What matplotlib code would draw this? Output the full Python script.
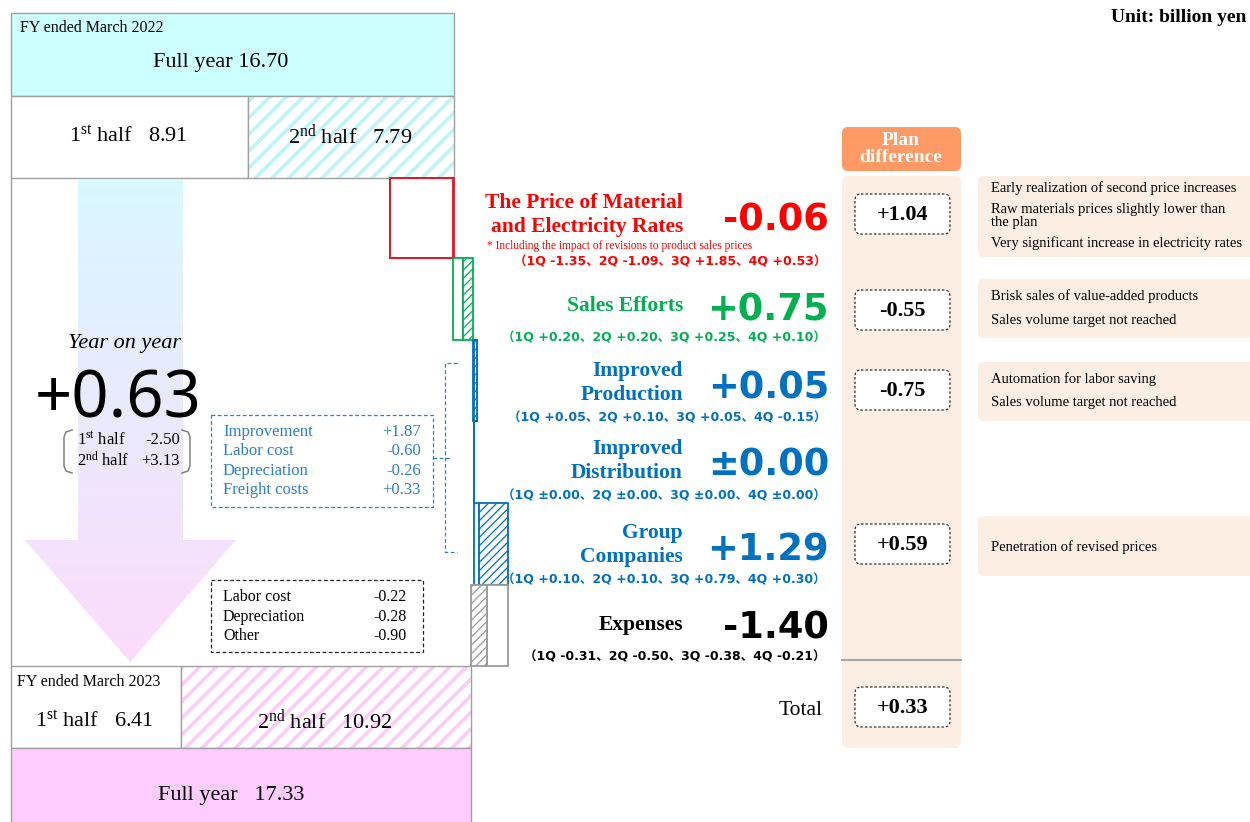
import numpy as np
import matplotlib.pyplot as plt
from matplotlib.patches import FancyBboxPatch, Polygon, Rectangle

plt.rcParams['mathtext.fontset'] = 'custom'
plt.rcParams['mathtext.rm'] = 'Liberation Serif'
plt.rcParams['mathtext.it'] = 'Liberation Serif:italic'
plt.rcParams['mathtext.bf'] = 'Liberation Serif:bold'

SERIF = 'Liberation Serif'
SANS = 'Noto Sans'
BOLD_SANS = 'DejaVu Sans'
QFONT = ['DejaVu Sans', 'Noto Sans CJK JP']

# ---- data (billion yen) ----
fy2022_full = 16.70
fy2022_half = [8.91, 7.79]
fy2023_full = 17.33
fy2023_half = [6.41, 10.92]
yoy_total = 0.63
yoy_half = [-2.50, 3.13]

factors = ['The Price of Material\nand Electricity Rates', 'Sales Efforts',
           'Improved\nProduction', 'Improved\nDistribution',
           'Group\nCompanies', 'Expenses']
factor_total = [-0.06, 0.75, 0.05, 0.00, 1.29, -1.40]
q1 = [-1.35, 0.20, 0.05, 0.00, 0.10, -0.31]
q2 = [-1.09, 0.20, 0.10, 0.00, 0.10, -0.50]
q3 = [1.85, 0.25, 0.05, 0.00, 0.79, -0.38]
q4 = [0.53, 0.10, -0.15, 0.00, 0.30, -0.21]
factor_colors = ['#ff0000', '#00b050', '#0070c0', '#0070c0', '#0070c0', '#000000']
bar_colors = ['#e8141c', '#00b050', '#0070c0', '#0070c0', '#0070c0', '#9a9a9a']

plan_diff = [1.04, -0.55, -0.75, None, 0.59, None]
plan_total = 0.33
plan_notes = [
    ['Early realization of second price increases',
     'Raw materials prices slightly lower than\nthe plan',
     'Very significant increase in electricity rates'],
    ['Brisk sales of value-added products', 'Sales volume target not reached'],
    ['Automation for labor saving', 'Sales volume target not reached'],
    None,
    ['Penetration of revised prices'],
    None,
]

prod_labels = ['Improvement', 'Labor cost', 'Depreciation', 'Freight costs']
prod_values = [1.87, -0.60, -0.26, 0.33]
exp_labels = ['Labor cost', 'Depreciation', 'Other']
exp_values = [-0.22, -0.28, -0.90]

# ---- layout (pixels) ----
W, H = 1250, 822
X0, PX_PER = 11, 26.55          # value axis: 0 at x=11, 26.55 px per billion yen
row_edges = [178, 258, 340, 421, 503, 585, 666]
label_y = [215, 306, 383, 461, 545, 625]
num_base = [230, 320, 398, 475, 560, 638]
quarter_y = [262, 338, 418, 496, 580, 657]
plan_y = [214, 310, 390, None, 544, None]
note_box = [(176, 257), (279, 338), (362, 421), None, (516, 576), None]
note_y = [[188, 215.5, 243], [296, 320], [379, 402], None, [547], None]


def fmt(v):
    if abs(v) < 1e-9:
        return '\u00b10.00'
    return f'{v:+.2f}'


def hatch_lw(patches, lw):
    for p in patches:
        if hasattr(p, 'set_hatch_linewidth'):
            p.set_hatch_linewidth(lw)


fig = plt.figure(figsize=(W / 100, H / 100), dpi=100)
wf = fig.add_axes([0, 0, 1, 1], zorder=0)
wf.set_xlim(-X0 / PX_PER, (W - X0) / PX_PER)
wf.set_ylim(H, 0)
wf.axis('off')

ax = fig.add_axes([0, 0, 1, 1], zorder=1)
ax.patch.set_alpha(0)
ax.axis('off')

grey = '#a0a0a0'

# ---- FY2022 boxes ----
wf.barh(54.5, fy2022_full, left=0, height=83, color='#ccffff', edgecolor=grey, lw=1)
wf.barh(137, fy2022_half[0], left=0, height=82, color='white', edgecolor=grey, lw=1)
b = wf.barh(137, fy2022_half[1], left=fy2022_half[0], height=82, color='white',
            edgecolor='#bff3f6', hatch='//', lw=0)
hatch_lw(b, 2.6)
wf.barh(137, fy2022_half[1], left=fy2022_half[0], height=82, fill=False, edgecolor=grey, lw=1)

# ---- FY2023 boxes ----
wf.barh(707, fy2023_half[0], left=0, height=82, color='white', edgecolor=grey, lw=1)
b = wf.barh(707, fy2023_half[1], left=fy2023_half[0], height=82, color='white',
            edgecolor='#fbcdf6', hatch='//', lw=0)
hatch_lw(b, 2.6)
wf.barh(707, fy2023_half[1], left=fy2023_half[0], height=82, fill=False, edgecolor=grey, lw=1)
wf.barh(789, fy2023_full, left=0, height=82, color='#ffccff', edgecolor=grey, lw=1)

# ---- waterfall (white = 1st half, hatched = 2nd half) ----
level = fy2022_full
for i in range(len(factors)):
    h1 = q1[i] + q2[i]
    h2 = q3[i] + q4[i]
    y0, y1 = row_edges[i], row_edges[i + 1]
    yc, hh = (y0 + y1) / 2, y1 - y0
    wf.barh(yc, h1, left=level, height=hh, color='white', edgecolor=bar_colors[i], lw=1.3)
    level += h1
    if i == 0:
        wf.barh(yc, h2, left=level, height=hh, fill=False, edgecolor=bar_colors[i], lw=1.3)
    else:
        b = wf.barh(yc, h2, left=level, height=hh, color='white', edgecolor=bar_colors[i],
                    hatch='////', lw=1.3)
        hatch_lw(b, 0.9)
    level += h2

# left frame of the middle area
ax.plot([11, 11], [178, 666], color=grey, lw=1)

# ---- gradient arrow ----
arrow = Polygon([(78, 180), (183, 180), (183, 540), (236, 540), (130, 662), (25, 540), (78, 540)],
                closed=True, fc='none', ec='none')
ax.add_patch(arrow)
t = np.linspace(0, 1, 256)[:, None, None]
top_c = np.array([0.85, 0.97, 1.0])
bot_c = np.array([0.99, 0.86, 0.98])
img = top_c + (bot_c - top_c) * t
im = ax.imshow(img, extent=(25, 236, 662, 180), aspect='auto', zorder=0.5)
im.set_clip_path(arrow)
ax.set_xlim(0, W)
ax.set_ylim(H, 0)

# ---- box texts ----
ax.text(20, 28, 'FY ended March 2022', family=SERIF, fontsize=11.5, va='center')
ax.text(221, 63, f'Full year {fy2022_full:.2f}', family=SERIF, fontsize=16, ha='center', va='center')
ax.text(128, 136, f'1$^{{\\rm st}}$ half   {fy2022_half[0]:.2f}', family=SERIF, fontsize=16,
        ha='center', va='center')
ax.text(350, 136, f'2$^{{\\rm nd}}$ half   {fy2022_half[1]:.2f}', family=SERIF, fontsize=16,
        ha='center', va='center')
ax.text(17, 682, 'FY ended March 2023', family=SERIF, fontsize=11.5, va='center')
ax.text(94, 721, f'1$^{{\\rm st}}$ half   {fy2023_half[0]:.2f}', family=SERIF, fontsize=16,
        ha='center', va='center')
ax.text(325, 721, f'2$^{{\\rm nd}}$ half   {fy2023_half[1]:.2f}', family=SERIF, fontsize=16,
        ha='center', va='center')
ax.text(231, 795, f'Full year   {fy2023_full:.2f}', family=SERIF, fontsize=16,
        ha='center', va='center')

# ---- year on year ----
ax.text(124, 343, 'Year on year', family=SERIF, style='italic', fontsize=16, ha='center', va='center')
ax.text(118, 417, fmt(yoy_total), family=SANS, fontsize=47, ha='center', va='baseline')
ax.text(77, 440, '1$^{\\rm st}$ half', family=SERIF, fontsize=12, va='center')
ax.text(180, 440, f'{yoy_half[0]:.2f}', family=SERIF, fontsize=12, ha='right', va='center')
ax.text(77, 461, '2$^{\\rm nd}$ half', family=SERIF, fontsize=12, va='center')
ax.text(180, 461, fmt(yoy_half[1]), family=SERIF, fontsize=12, ha='right', va='center')
ax.plot([72, 66, 64, 64, 66, 72], [430, 432, 437, 466, 471, 473], color='#808080', lw=1.1)
ax.plot([182, 188, 190, 190, 188, 182], [430, 432, 437, 466, 471, 473], color='#808080', lw=1.1)

# ---- production / group breakdown box ----
blue_l = '#2e7fcc'
ax.add_patch(Rectangle((211, 415), 222, 92, fc='white', ec=blue_l, lw=0.9, ls=(0, (3, 2))))
for k, (lab, v) in enumerate(zip(prod_labels, prod_values)):
    yy = 432 + k * 19.3
    ax.text(223, yy, lab, family=SERIF, fontsize=12, color=blue_l, va='center')
    ax.text(421, yy, fmt(v), family=SERIF, fontsize=12, color=blue_l, ha='right', va='center')
ax.plot([433, 452], [458, 458], color=blue_l, lw=0.9, ls=(0, (3, 2)))
ax.plot([457, 445, 445, 457], [363, 363, 552, 552], color=blue_l, lw=0.9, ls=(0, (3, 2)))

# ---- expenses breakdown box ----
ax.add_patch(Rectangle((211, 580), 212, 72, fc='white', ec='#222222', lw=0.9, ls=(0, (3, 2))))
for k, (lab, v) in enumerate(zip(exp_labels, exp_values)):
    yy = 597 + k * 19.5
    ax.text(223, yy, lab, family=SERIF, fontsize=11.5, va='center')
    ax.text(407, yy, fmt(v), family=SERIF, fontsize=11.5, ha='right', va='center')

# ---- factor labels ----
for i, name in enumerate(factors):
    c = factor_colors[i]
    ax.text(683, label_y[i], name, family=SERIF, weight='bold', fontsize=15.5, color=c,
            ha='right', va='center', multialignment='right', linespacing=1.22)
    ax.text(829, num_base[i], fmt(factor_total[i]), family=BOLD_SANS, weight='bold', fontsize=26.5,
            color=c, ha='right', va='baseline')
    qs = [q1[i], q2[i], q3[i], q4[i]]
    qtxt = '\uff08' + '\u3001'.join(f'{k + 1}Q {fmt(v)}' for k, v in enumerate(qs)) + '\uff09'
    ax.text(826, quarter_y[i], qtxt, family=QFONT, weight='bold', fontsize=9, color=c,
            ha='right', va='center')
ax.text(487, 246, '* Including the impact of revisions to product sales prices', family=SERIF,
        fontsize=8.3, color='#ff0000', va='center')

# ---- plan difference column ----
peach = '#fdeee3'
ax.add_patch(FancyBboxPatch((842, 127), 119, 44, boxstyle='round,pad=0,rounding_size=6',
                            fc='#ff9a66', ec='none'))
ax.text(901, 149, 'Plan\ndifference', family=SERIF, weight='bold', fontsize=14, color='white',
        ha='center', va='center', linespacing=0.95)
ax.add_patch(FancyBboxPatch((842, 176), 119, 572, boxstyle='round,pad=0,rounding_size=7',
                            fc=peach, ec='none'))
ax.plot([842, 961], [660, 660], color='#a6a6a6', lw=1.5)


def plan_box(y, v):
    ax.add_patch(FancyBboxPatch((855, y - 20), 95, 40, boxstyle='round,pad=0,rounding_size=6',
                                fc='white', ec='#333333', lw=0.9, ls=(0, (2, 1.6))))
    ax.text(902.5, y + 1, fmt(v), family=SERIF, weight='bold', fontsize=16, ha='center', va='center')


for i, v in enumerate(plan_diff):
    if v is not None:
        plan_box(plan_y[i], v)
plan_box(707, plan_total)
ax.text(823, 710, 'Total', family=SERIF, fontsize=15.5, ha='right', va='center')

for i, notes in enumerate(plan_notes):
    if notes is None:
        continue
    y0, y1 = note_box[i]
    ax.add_patch(FancyBboxPatch((978, y0), 300, y1 - y0, boxstyle='round,pad=0,rounding_size=5',
                                fc=peach, ec='none'))
    for txt, yy in zip(notes, note_y[i]):
        ax.text(991, yy, txt, family=SERIF, fontsize=10.5, va='center', linespacing=1.0)

ax.text(1246, 17, 'Unit: billion yen', family=SERIF, weight='bold', fontsize=14,
        ha='right', va='center')

fig.savefig('out.png', dpi=100)
